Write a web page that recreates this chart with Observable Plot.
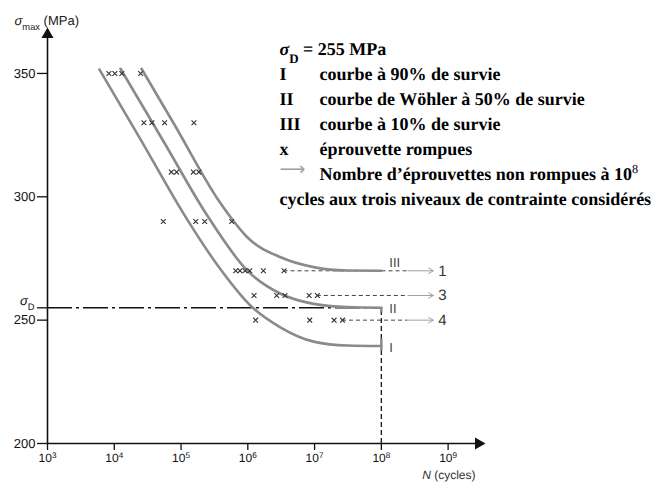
<!DOCTYPE html>
<html><head><meta charset="utf-8">
<script src="https://cdn.jsdelivr.net/npm/d3@7"></script>
<script src="https://cdn.jsdelivr.net/npm/@observablehq/plot@0.6"></script>
<style>body{margin:0;background:#fff} svg text{text-rendering:geometricPrecision}</style>
</head><body><div id="chart"></div><script>
// Curve I : 90% survival
const curveI_N = [6.0e3, 2.51e4, 1.09e5, 3.29e5, 1.17e6, 3.11e6, 9.68e6, 3.1e7, 1e8];
const curveI_S = [351.6, 323.0, 293.2, 273.4, 255.2, 247.0, 241.3, 239.7, 239.5];
// Curve II : Wöhler 50%
const curveII_N = [1.24e4, 5.62e4, 2.47e5, 9.82e5, 3.1e6, 9.68e6, 3.1e7, 1e8];
const curveII_S = [351.9, 321.9, 292.4, 270.1, 260.7, 256.6, 255.3, 255.0];
// Curve III : 10% survival
const curveIII_N = [2.56e4, 7.94e4, 3.68e5, 5.71e5, 9.82e5, 3.1e6, 9.68e6, 3.1e7, 1e8];
const curveIII_S = [351.9, 329.3, 298.4, 291.2, 283.6, 275.5, 271.5, 270.1, 270.0];
const curveNames = ["I", "II", "III"];

// broken specimens
const failS = [350,350,350,350, 330,330,330,330, 310,310,310,310, 290,290,290,290,
               270,270,270,270,270,270, 260,260,260,260,260, 250,250,250,250];
const failN = [8.3e3,1.02e4,1.3e4,2.48e4, 2.78e4,3.66e4,5.67e4,1.56e5, 7.16e4,8.59e4,1.53e5,1.85e5,
               5.43e4,1.66e5,2.26e5,5.74e5, 6.59e5,7.64e5,9.08e5,1.07e6,1.71e6,3.49e6,
               1.24e6,2.71e6,3.61e6,8.28e6,1.10e7, 1.31e6,8.47e6,1.96e7,2.62e7];

// run-outs at 1e8 cycles
const runoutS = [270, 260, 250];
const runoutLabels = ["1", "3", "4"];
const runoutDashEnd = 2.5e8, runoutArrowEnd = 6.0e8, runoutLabelN = 8.2e8;

const sigmaD = 255;
const NDlimit = 1e8;

const xTicks = [1e3, 1e4, 1e5, 1e6, 1e7, 1e8, 1e9];
const yTicks = [200, 250, 300, 350];

const legendKeys = ["~{σ}_{D} = 255 MPa", "I", "II", "III", "x", "", "cycles aux trois niveaux de contrainte considérés"];
const legendTexts = ["", "courbe à 90% de survie", "courbe de Wöhler à 50% de survie", "courbe à 10% de survie",
                     "éprouvette rompues", "Nombre d’éprouvettes non rompues à 10^{8}", ""];

const curves = [
  {name: curveNames[0], N: curveI_N, S: curveI_S},
  {name: curveNames[1], N: curveII_N, S: curveII_S},
  {name: curveNames[2], N: curveIII_N, S: curveIII_S}
];
const runouts = runoutS.map((s, i) => ({
  s, label: runoutLabels[i],
  start: d3.max(failN.filter((n, j) => failS[j] === s))
}));
const curveEnds = curves.map(c => ({name: c.name, N: c.N[c.N.length - 1], S: c.S[c.S.length - 1]}));
const labelDy = [2, 1, -8]; // vertical nudges of the I / II / III labels

const serif = "'Liberation Serif', 'Times New Roman', serif";
const sans = "'Liberation Sans', Arial, sans-serif";
const curveColor = "#8a8a8a";

const chart = Plot.plot({
  width: 653, height: 490,
  marginLeft: 47, marginRight: 172, marginTop: 31, marginBottom: 47,
  style: {fontFamily: sans, fontSize: "13px", color: "#111", background: "#fff"},
  x: {type: "log", domain: [1e3, Math.pow(10, 9.5)]},
  y: {domain: [200, 367]},
  marks: [
    // sigma D dash-dot
    Plot.ruleY([sigmaD], {x1: 1e3, x2: NDlimit, stroke: "#111", strokeWidth: 1.6, strokeDasharray: "25,4,3,4"}),
    // vertical dashed at 1e8
    Plot.ruleX([NDlimit], {y1: 200, y2: sigmaD, stroke: "#222", strokeWidth: 1.4, strokeDasharray: "5,3"}),
    // run-out dashed lines + arrows
    Plot.ruleY(runouts, {y: "s", x1: "start", x2: runoutDashEnd, stroke: "#444", strokeWidth: 1, strokeDasharray: "4,3"}),
    Plot.arrow(runouts, {x1: runoutDashEnd, x2: runoutArrowEnd, y1: "s", y2: "s", stroke: "#a0a0a0", strokeWidth: 1, headLength: 8}),
    Plot.text(runouts, {x: runoutLabelN, y: "s", text: "label", fontSize: 15, fill: "#333", fontFamily: sans}),
    // curves
    ...curves.map(c => Plot.line(c.N, {x: c.N, y: c.S, curve: "monotone-x", stroke: curveColor, strokeWidth: 2.6})),
    // end caps
    Plot.ruleX([curveEnds[0]], {x: "N", y1: d => d.S - 2, y2: d => d.S + 3, stroke: curveColor, strokeWidth: 2.4}),
    Plot.ruleX([curveEnds[1]], {x: "N", y1: d => d.S - 2, y2: d => d.S, stroke: curveColor, strokeWidth: 2.4}),
    ...curveEnds.map((c, i) => Plot.text([c], {x: "N", y: "S", text: "name", dx: 8, dy: labelDy[i], textAnchor: "start", fontSize: 13, fill: "#444"})),
    // broken specimens
    Plot.dot(failN, {x: failN, y: failS, symbol: "times", r: 2.3, stroke: "#333", strokeWidth: 1.1}),
    // axes lines
    Plot.ruleY([200], {stroke: "#111", strokeWidth: 1.6}),
    Plot.ruleX([1e3], {stroke: "#111", strokeWidth: 1.6}),
    Plot.dot([200], {y: d => d, frameAnchor: "right", symbol: "triangle", rotate: 90, r: 4.5, fill: "#111", stroke: "none", dx: -3}),
    Plot.dot([1e3], {x: d => d, frameAnchor: "top", symbol: "triangle", r: 4.5, fill: "#111", stroke: "none", dy: 3}),
    Plot.axisX({ticks: xTicks, tickSize: 7, tickPadding: 3, fontSize: 12, label: null, strokeWidth: 1.3,
                tickFormat: d => `10^{${Math.round(Math.log10(d))}}`}),
    Plot.axisY({ticks: yTicks, tickSize: 10, tickPadding: 2, fontSize: 13, label: null, strokeWidth: 1.3}),
    Plot.axisY({ticks: [sigmaD], tickSize: 10, fontSize: 13, label: null, strokeWidth: 1.3, tickFormat: () => ""}),
    Plot.text([sigmaD], {y: d => d, frameAnchor: "left", dx: -13, dy: -7, textAnchor: "end", fontSize: 13, fill: "#111",
               text: () => "~{σ}_{D}"}),
    // axis titles
    Plot.text(["~{σ}_{max} (MPa)"], {frameAnchor: "top-left", dx: -33, dy: -16, textAnchor: "start", fontSize: 13, fill: "#222"}),
    Plot.text(["~{N} (cycles)"], {frameAnchor: "bottom-right", dx: -6, dy: 35, textAnchor: "end", fontSize: 12, fill: "#333"}),
    // legend
    Plot.text([legendKeys.join("\n")], {frameAnchor: "top-left", dx: 232, dy: 6, textAnchor: "start", lineAnchor: "top",
               lineHeight: 25 / 18, fontSize: 18, fontWeight: "bold", fontFamily: serif, fill: "#000"}),
    Plot.text([legendTexts.join("\n")], {frameAnchor: "top-left", dx: 272, dy: 6, textAnchor: "start", lineAnchor: "top",
               lineHeight: 25 / 18, fontSize: 18, fontWeight: "bold", fontFamily: serif, fill: "#000"}),
    Plot.text(["⟶"], {frameAnchor: "top-left", dx: 232, dy: 6 + 5 * 25, textAnchor: "start", lineAnchor: "top",
               fontSize: 18, fontFamily: "'DejaVu Sans', sans-serif", fill: "#a0a0a0"})
  ]
});

// rich-text post-processing: ~{italic}, _{sub}, ^{sup}
function rich(el) {
  const s = el.textContent;
  if (!/[_^~]\{/.test(s)) return;
  while (el.firstChild) el.removeChild(el.firstChild);
  const re = /([_^~])\{([^}]*)\}/g;
  let last = 0, m;
  while ((m = re.exec(s))) {
    if (m.index > last) el.appendChild(document.createTextNode(s.slice(last, m.index)));
    const t = document.createElementNS("http://www.w3.org/2000/svg", "tspan");
    t.textContent = m[2];
    if (m[1] === "_") { t.setAttribute("baseline-shift", "sub"); t.setAttribute("font-size", "72%"); t.setAttribute("font-style", "normal"); }
    else if (m[1] === "^") { t.setAttribute("baseline-shift", "super"); t.setAttribute("font-size", "68%"); t.setAttribute("font-weight", "normal"); }
    else { t.setAttribute("font-style", "italic"); }
    el.appendChild(t);
    last = re.lastIndex;
  }
  if (last < s.length) el.appendChild(document.createTextNode(s.slice(last)));
}
const leaves = Array.from(chart.querySelectorAll("text, tspan")).filter(e => !e.querySelector("tspan"));
leaves.forEach(rich);

document.getElementById("chart").appendChild(chart);
</script></body></html>
